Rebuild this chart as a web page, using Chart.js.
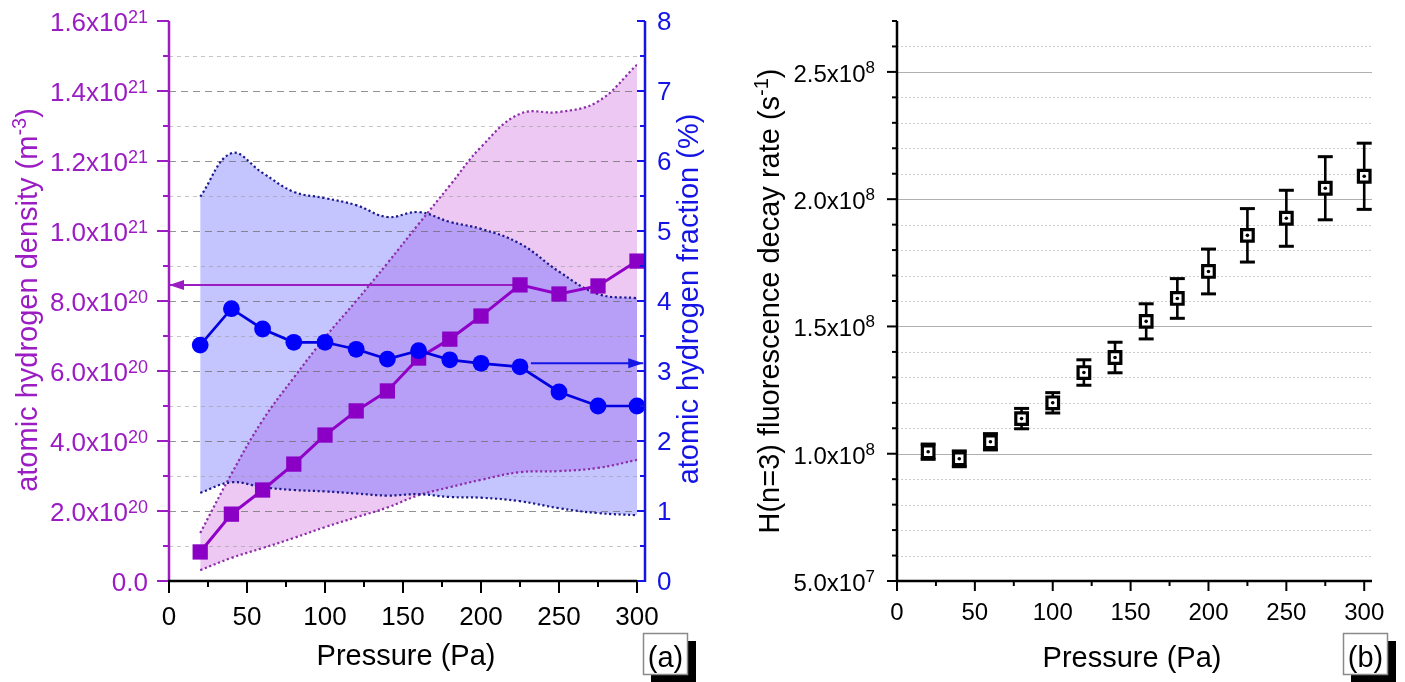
<!DOCTYPE html>
<html><head><meta charset="utf-8">
<script src="https://cdn.jsdelivr.net/npm/chart.js@4.4.1/dist/chart.umd.min.js"></script>
<style>
html,body{margin:0;padding:0;background:#fff;width:1405px;height:682px;overflow:hidden}
#wa{position:absolute;left:0;top:0;width:740px;height:682px}
#wb{position:absolute;left:740px;top:0;width:665px;height:682px}
canvas{display:block}
</style></head><body>
<div id="wa"><canvas id="ca" width="740" height="682"></canvas></div>
<div id="wb"><canvas id="cb" width="665" height="682"></canvas></div>
<script>
// ---------- DATA ----------
const pressure = [20,40,60,80,100,120,140,160,180,200,225,250,275,300];
const density = [0.83e20,1.91e20,2.6e20,3.34e20,4.17e20,4.86e20,5.43e20,6.37e20,6.91e20,7.57e20,8.46e20,8.2e20,8.43e20,9.14e20];
const densityUpper = [1.37e20,3.06e20,4.59e20,5.81e20,6.96e20,8.0e20,9.08e20,10.2e20,11.3e20,12.4e20,13.35e20,13.4e20,13.7e20,14.75e20];
const densityLower = [0.31e20,0.66e20,0.94e20,1.23e20,1.54e20,1.82e20,2.1e20,2.45e20,2.68e20,2.89e20,3.11e20,3.14e20,3.23e20,3.46e20];
const fraction = [3.37,3.89,3.6,3.41,3.41,3.31,3.17,3.29,3.16,3.11,3.06,2.7,2.5,2.5];
const fractionUpper = [5.49,6.11,5.83,5.56,5.47,5.37,5.2,5.27,5.13,5.03,4.82,4.42,4.1,4.04];
const fractionLower = [1.26,1.41,1.34,1.3,1.28,1.25,1.22,1.24,1.2,1.19,1.14,1.04,0.97,0.94];
const decayRate = [1.008e8,0.98e8,1.047e8,1.138e8,1.20e8,1.319e8,1.378e8,1.52e8,1.61e8,1.716e8,1.858e8,1.925e8,2.043e8,2.09e8];
const decayError = [0.03e8,0.031e8,0.032e8,0.04e8,0.04e8,0.05e8,0.06e8,0.069e8,0.078e8,0.088e8,0.105e8,0.11e8,0.124e8,0.13e8];

const pressureTicks = [0,50,100,150,200,250,300];
const pressureTickLabels = ['0','50','100','150','200','250','300'];
const pressureMinorTicks = [25,75,125,175,225,275];
const densityTicks = [0,2e20,4e20,6e20,8e20,1e21,1.2e21,1.4e21,1.6e21];
const densityTickLabels = ['0.0','2.0x10^20','4.0x10^20','6.0x10^20','8.0x10^20','1.0x10^21','1.2x10^21','1.4x10^21','1.6x10^21'];
const densityMinorTicks = [1e20,3e20,5e20,7e20,9e20,1.1e21,1.3e21,1.5e21];
const fractionTicks = [0,1,2,3,4,5,6,7,8];
const fractionTickLabels = ['0','1','2','3','4','5','6','7','8'];
const fractionMinorTicks = [0.5,1.5,2.5,3.5,4.5,5.5,6.5,7.5];
const decayTicks = [5e7,1e8,1.5e8,2e8,2.5e8];
const decayTickLabels = ['5.0x10^7','1.0x10^8','1.5x10^8','2.0x10^8','2.5x10^8'];
const decayMinorTicks = [6e7,7e7,8e7,9e7,1.1e8,1.2e8,1.3e8,1.4e8,1.6e8,1.7e8,1.8e8,1.9e8,2.1e8,2.2e8,2.3e8,2.4e8,2.6e8,2.7e8];

const densityArrow = [[225, 8.46e20],[0, 8.46e20]];
const fractionArrow = [[232, 3.11],[304, 3.11]];

const densityTitle = 'atomic hydrogen density (m^-3^)';
const fractionTitle = 'atomic hydrogen fraction (%)';
const pressureTitle = 'Pressure (Pa)';
const decayTitle = 'H(n=3) fluorescence decay rate (s^-1^)';

// ---------- STYLE ----------
const FONT = '"Liberation Sans", Arial, sans-serif';
const PURPLE = '#9c1cc4';
const BLUE = '#1414e6';

function xy(xs, ys){ return xs.map((v,i)=>({x:v, y:ys[i]})); }

function rich(ctx, str, x, y, o){
  const segs = str.split('^');
  const w = []; let tot = 0;
  segs.forEach((s,i)=>{ ctx.font = (i%2 ? o.sup : o.size)+'px '+FONT; const m = ctx.measureText(s).width; w.push(m); tot += m; });
  let cx = o.align==='right' ? x-tot : (o.align==='center' ? x-tot/2 : x);
  ctx.fillStyle = o.color; ctx.textAlign='left'; ctx.textBaseline='alphabetic';
  segs.forEach((s,i)=>{ ctx.font=(i%2 ? o.sup : o.size)+'px '+FONT; ctx.fillText(s, cx, i%2 ? y-o.rise : y); cx += w[i]; });
}
function rotRich(ctx, str, bx, cy, o){
  ctx.save(); ctx.translate(bx, cy); ctx.rotate(-Math.PI/2);
  rich(ctx, str, 0, 0, Object.assign({}, o, {align:'center'}));
  ctx.restore();
}
function line(ctx, x1,y1,x2,y2,color,width,dash){
  ctx.beginPath(); ctx.strokeStyle=color; ctx.lineWidth=width; ctx.setLineDash(dash||[]);
  ctx.moveTo(x1,y1); ctx.lineTo(x2,y2); ctx.stroke(); ctx.setLineDash([]);
}
function arrow(ctx, x1,y1,x2,y2,color){
  line(ctx,x1,y1,x2,y2,color,2);
  const d = Math.sign(x2-x1);
  ctx.beginPath(); ctx.fillStyle=color;
  ctx.moveTo(x2,y2); ctx.lineTo(x2-d*15,y2-5); ctx.lineTo(x2-d*15,y2+5); ctx.closePath(); ctx.fill();
}
function labelBox(ctx, x, y, w, h, text){
  ctx.fillStyle='#000'; ctx.fillRect(x+8,y+8,w,h);
  ctx.fillStyle='#fff'; ctx.fillRect(x,y,w,h);
  ctx.strokeStyle='#8a8a8a'; ctx.lineWidth=1.5; ctx.strokeRect(x+0.5,y+0.5,w-1,h-1);
  ctx.font='29px '+FONT; ctx.fillStyle='#000'; ctx.textAlign='center'; ctx.textBaseline='alphabetic';
  ctx.fillText(text, x+w/2, y+h-8);
}
const R = v => Math.round(v)+0.5;

// ---------- CHART A ----------
const plugA = {
  id:'plugA',
  beforeDatasetsDraw(chart){
    const {ctx, chartArea:a, scales:{x,y,y1}} = chart;
    ctx.save();
    densityMinorTicks.forEach(v=>{ const p=R(y.getPixelForValue(v)); line(ctx,a.left,p,a.right,p,'rgba(150,150,150,0.55)',1,[4,4]); });
    densityTicks.forEach(v=>{ if(v<=0||v>=1.6e21) return; const p=R(y.getPixelForValue(v)); line(ctx,a.left,p,a.right,p,'rgba(110,110,110,0.75)',1,[7,5]); });
    const p0 = densityArrow[0], p1 = densityArrow[1];
    arrow(ctx, x.getPixelForValue(p0[0]), y.getPixelForValue(p0[1]), x.getPixelForValue(p1[0]), y.getPixelForValue(p1[1]), PURPLE);
    const q0 = fractionArrow[0], q1 = fractionArrow[1];
    arrow(ctx, x.getPixelForValue(q0[0]), y1.getPixelForValue(q0[1]), x.getPixelForValue(q1[0]), y1.getPixelForValue(q1[1]), BLUE);
    ctx.restore();
  },
  afterDatasetsDraw(chart){
    const {ctx, chartArea:a, scales:{x,y,y1}} = chart;
    ctx.save();
    line(ctx, a.left, a.top, a.left, a.bottom+1, PURPLE, 2.5);
    densityTicks.forEach((v,i)=>{
      const p=y.getPixelForValue(v);
      line(ctx, a.left-12, p, a.left, p, PURPLE, 2);
      rich(ctx, densityTickLabels[i], a.left-21, p+10, {size:26, sup:18, rise:8, align:'right', color:PURPLE});
    });
    densityMinorTicks.forEach(v=>{ const p=y.getPixelForValue(v); line(ctx, a.left-6, p, a.left, p, PURPLE, 2); });
    line(ctx, a.left-1, a.bottom, a.right, a.bottom, '#000', 2.5);
    pressureTicks.forEach((v,i)=>{
      const p=x.getPixelForValue(v);
      line(ctx, p, a.bottom, p, a.bottom+12, '#000', 2);
      rich(ctx, pressureTickLabels[i], p, a.bottom+44, {size:26, sup:18, rise:8, align:'center', color:'#000'});
    });
    pressureMinorTicks.forEach(v=>{ const p=x.getPixelForValue(v); line(ctx, p, a.bottom, p, a.bottom+6, '#000', 2); });
    const rx = a.right+8;
    line(ctx, rx, a.top, rx, a.bottom+1, BLUE, 2.5);
    fractionTicks.forEach((v,i)=>{
      const p=y1.getPixelForValue(v);
      line(ctx, rx-8, p, rx, p, BLUE, 2);
      rich(ctx, fractionTickLabels[i], rx+12, p+9, {size:26, sup:18, rise:8, align:'left', color:BLUE});
    });
    fractionMinorTicks.forEach(v=>{ const p=y1.getPixelForValue(v); line(ctx, rx-5, p, rx, p, BLUE, 2); });
    rotRich(ctx, densityTitle, 37, 300, {size:29, sup:20, rise:11, color:PURPLE});
    rotRich(ctx, fractionTitle, 698, 299, {size:29, sup:20, rise:11, color:BLUE});
    rich(ctx, pressureTitle, 406, 665, {size:29, sup:20, rise:11, align:'center', color:'#000'});
    labelBox(ctx, 643, 633, 45, 42, '(a)');
    ctx.restore();
  }
};

new Chart(document.getElementById('ca'), {
  type:'line',
  data:{ datasets:[
    { data:xy(pressure,fraction), yAxisID:'y1', borderColor:'#0000e0', borderWidth:2.7, pointStyle:'circle', pointRadius:8.4, pointBackgroundColor:'#0000ff', pointBorderWidth:0, fill:false, tension:0, clip:false },
    { data:xy(pressure,density), yAxisID:'y', borderColor:'#9000c8', borderWidth:3, pointStyle:'rect', pointRadius:10.8, pointBackgroundColor:'#8a00c4', pointBorderWidth:0, fill:false, tension:0, clip:false },
    { data:xy(pressure,fractionUpper), yAxisID:'y1', borderColor:'#1a1a8c', borderWidth:2.2, borderDash:[2.2,2.6], pointRadius:0, tension:0.4, fill:'+1', backgroundColor:'rgba(60,60,255,0.30)' },
    { data:xy(pressure,fractionLower), yAxisID:'y1', borderColor:'#1a1a8c', borderWidth:2.2, borderDash:[2.2,2.6], pointRadius:0, tension:0.4, fill:false },
    { data:xy(pressure,densityUpper), yAxisID:'y', borderColor:'#8c2ca8', borderWidth:2.2, borderDash:[2.2,2.6], pointRadius:0, tension:0.4, fill:'+1', backgroundColor:'rgba(217,145,229,0.5)' },
    { data:xy(pressure,densityLower), yAxisID:'y', borderColor:'#8c2ca8', borderWidth:2.2, borderDash:[2.2,2.6], pointRadius:0, tension:0.4, fill:false }
  ]},
  options:{
    responsive:false, animation:false, devicePixelRatio:1, events:[],
    layout:{padding:{left:169, right:103, top:21, bottom:101}},
    plugins:{legend:{display:false}, tooltip:{enabled:false}, filler:{drawTime:'beforeDatasetsDraw'}},
    scales:{
      x:{type:'linear', min:0, max:300, display:false},
      y:{type:'linear', min:0, max:1.6e21, display:false},
      y1:{type:'linear', position:'right', min:0, max:8, display:false}
    }
  },
  plugins:[plugA]
});

// ---------- CHART B ----------
const plugB = {
  id:'plugB',
  beforeDatasetsDraw(chart){
    const {ctx, chartArea:a, scales:{x,y}} = chart;
    ctx.save();
    decayMinorTicks.forEach(v=>{ if(v>=2.7e8) return; const p=R(y.getPixelForValue(v)); line(ctx,a.left,p,a.right,p,'rgba(170,170,170,0.6)',1,[2,2]); });
    decayTicks.forEach(v=>{ if(v<=5e7) return; const p=R(y.getPixelForValue(v)); line(ctx,a.left,p,a.right,p,'#b0b0b0',1.2); });
    pressure.forEach((pv,i)=>{
      const px = x.getPixelForValue(pv);
      const t = y.getPixelForValue(decayRate[i]+decayError[i]);
      const b = y.getPixelForValue(decayRate[i]-decayError[i]);
      line(ctx, px, t, px, b, '#000', 2.6);
      line(ctx, px-7.5, t, px+7.5, t, '#000', 3);
      line(ctx, px-7.5, b, px+7.5, b, '#000', 3);
    });
    ctx.restore();
  },
  afterDatasetsDraw(chart){
    const {ctx, chartArea:a, scales:{x,y}} = chart;
    ctx.save();
    line(ctx, a.left, a.top, a.left, a.bottom+1, '#000', 2.5);
    decayTicks.forEach((v,i)=>{
      const p=y.getPixelForValue(v);
      line(ctx, a.left-10, p, a.left, p, '#000', 2);
      rich(ctx, decayTickLabels[i], a.left-22, p+10, {size:24, sup:17, rise:9, align:'right', color:'#000'});
    });
    decayMinorTicks.forEach(v=>{ const p=y.getPixelForValue(v); line(ctx, a.left-5, p, a.left, p, '#000', 2); });
    line(ctx, a.left-1, a.bottom, a.right, a.bottom, '#000', 2.5);
    pressureTicks.forEach((v,i)=>{
      const p=x.getPixelForValue(v);
      line(ctx, p, a.bottom, p, a.bottom+10, '#000', 2);
      rich(ctx, pressureTickLabels[i], p, a.bottom+39, {size:24, sup:17, rise:9, align:'center', color:'#000'});
    });
    pressureMinorTicks.forEach(v=>{ const p=x.getPixelForValue(v); line(ctx, p, a.bottom, p, a.bottom+5, '#000', 2); });
    rotRich(ctx, decayTitle, 39, 301, {size:29, sup:20, rise:11, color:'#000'});
    rich(ctx, pressureTitle, 392, 667, {size:29, sup:20, rise:11, align:'center', color:'#000'});
    labelBox(ctx, 603, 633, 45, 42, '(b)');
    ctx.restore();
  }
};

new Chart(document.getElementById('cb'), {
  type:'line',
  data:{ datasets:[
    { data:xy(pressure,decayRate), showLine:false, pointStyle:'circle', pointRadius:1.8, pointBackgroundColor:'#000', pointBorderWidth:0, clip:false },
    { data:xy(pressure,decayRate), showLine:false, pointStyle:'rect', pointRadius:8.2, pointBackgroundColor:'#fff', pointBorderColor:'#000', pointBorderWidth:3.2, clip:false }
  ]},
  options:{
    responsive:false, animation:false, devicePixelRatio:1, events:[],
    layout:{padding:{left:157, right:33, top:21, bottom:101}},
    plugins:{legend:{display:false}, tooltip:{enabled:false}},
    scales:{
      x:{type:'linear', min:0, max:305, display:false},
      y:{type:'linear', min:5e7, max:2.7e8, display:false}
    }
  },
  plugins:[plugB]
});
</script></body></html>
